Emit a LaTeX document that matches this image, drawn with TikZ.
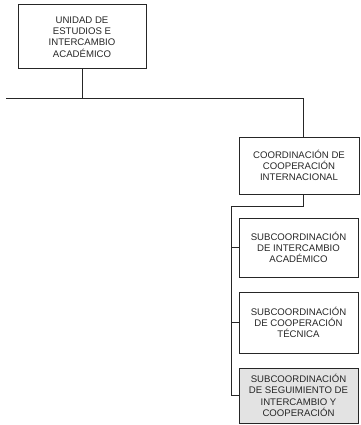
\documentclass[tikz,border=0pt]{standalone}
\usepackage{fontspec}
\setmainfont{Liberation Sans}
\begin{document}
\begin{tikzpicture}[x=1pt,y=-1pt,
  orgbox/.style={draw=black!85, line width=1pt, align=center, inner sep=0pt,
    font=\fontsize{9.6}{11.3}\selectfont, text=black!85},
  conn/.style={draw=black!85, line width=1pt}]
\useasboundingbox (0,0) rectangle (360,425);
\node[orgbox, minimum width=128, minimum height=64] (ueia) at (82,37)
  {UNIDAD DE\\ESTUDIOS E\\INTERCAMBIO\\ACADÉMICO};
\node[orgbox, minimum width=120, minimum height=57] (cci) at (299,165.5)
  {COORDINACIÓN DE\\COOPERACIÓN\\INTERNACIONAL};
\node[orgbox, minimum width=119, minimum height=59] (sia) at (298.5,247.5)
  {SUBCOORDINACIÓN\\DE INTERCAMBIO\\ACADÉMICO};
\node[orgbox, minimum width=119, minimum height=61] (sct) at (298.5,322.5)
  {SUBCOORDINACIÓN\\DE COOPERACIÓN\\TÉCNICA};
\node[orgbox, fill=gray!22, minimum width=119, minimum height=55] (ssic) at (298.5,395.5)
  {SUBCOORDINACIÓN\\DE SEGUIMIENTO DE\\INTERCAMBIO Y\\COOPERACIÓN};
\coordinate (hl) at (6,99);
\coordinate (hm) at (ueia.south |- hl);
\coordinate (hr) at (303,99);
\coordinate (ct) at (cci.north -| hr);
\coordinate (cb) at (cci.south -| hr);
\coordinate (j1) at (303,206);
\coordinate (j2) at (231,206);
\coordinate (b1) at (sia.west -| j2);
\coordinate (b2) at (sct.west -| j2);
\coordinate (b3) at (ssic.west -| j2);
\draw[conn] (ueia.south) -- (hm);
\draw[conn] (hl) -- (hr) -- (ct);
\draw[conn] (cb) -- (j1) -- (j2) -- (b3) -- (ssic.west);
\draw[conn] (b1) -- (sia.west);
\draw[conn] (b2) -- (sct.west);
\end{tikzpicture}
\end{document}
